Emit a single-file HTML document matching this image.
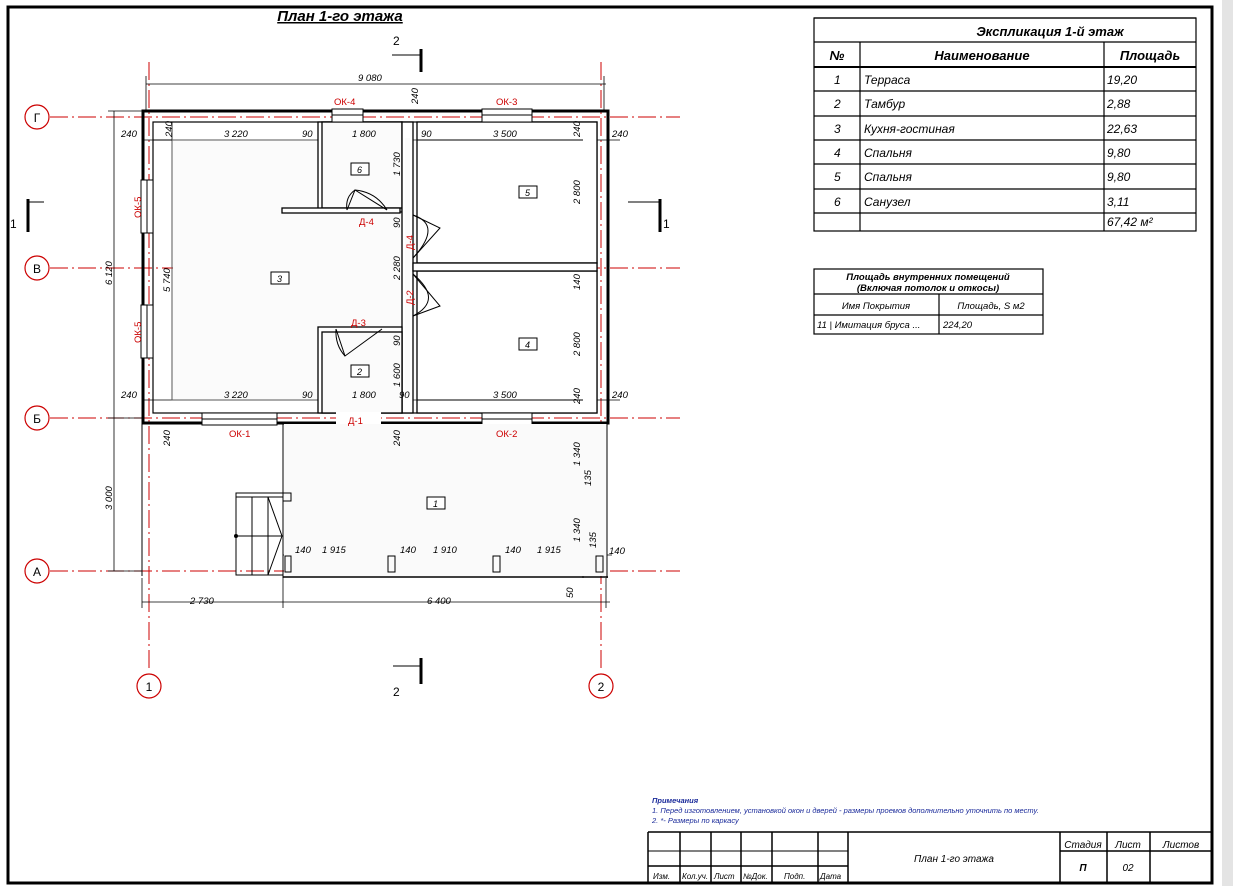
<!DOCTYPE html>
<html><head><meta charset="utf-8"><style>
html,body{margin:0;padding:0;background:#fff;}
svg{display:block;}
text{font-family:"Liberation Sans",sans-serif;font-style:italic;}
</style></head><body>
<svg width="1233" height="886" viewBox="0 0 1233 886" xmlns="http://www.w3.org/2000/svg">
<rect x="0" y="0" width="1233" height="886" fill="#fff"/>
<rect x="1222" y="0" width="11" height="886" fill="#e4e4e4"/>
<!-- frame -->
<rect x="8" y="7" width="1204" height="876" fill="none" stroke="#000" stroke-width="3"/>
<text x="340" y="21" font-size="15" font-weight="bold" text-anchor="middle" text-decoration="underline">План 1-го этажа</text>

<!-- axes -->
<g stroke="#c00" stroke-width="1" stroke-dasharray="18,4,2,4" fill="none">
<line x1="50" y1="117" x2="680" y2="117"/>
<line x1="50" y1="268" x2="680" y2="268"/>
<line x1="50" y1="418" x2="680" y2="418"/>
<line x1="50" y1="571" x2="680" y2="571"/>
<line x1="149" y1="62" x2="149" y2="672"/>
<line x1="601" y1="62" x2="601" y2="672"/>
</g>
<g stroke="#c00" stroke-width="1.2" fill="none">
<circle cx="37" cy="117" r="12"/><circle cx="37" cy="268" r="12"/><circle cx="37" cy="418" r="12"/><circle cx="37" cy="571" r="12"/>
<circle cx="149" cy="686" r="12"/><circle cx="601" cy="686" r="12"/>
</g>
<g font-size="12" text-anchor="middle" font-style="normal" fill="#000">
<text x="37" y="122" style="font-style:normal">Г</text><text x="37" y="273" style="font-style:normal">В</text><text x="37" y="423" style="font-style:normal">Б</text><text x="37" y="576" style="font-style:normal">А</text>
<text x="149" y="691" style="font-style:normal">1</text><text x="601" y="691" style="font-style:normal">2</text>
</g>

<!-- section marks -->
<g stroke="#000" fill="#000">
<line x1="28" y1="199" x2="28" y2="232" stroke-width="3"/><line x1="28" y1="202" x2="44" y2="202"/>
<line x1="660" y1="199" x2="660" y2="232" stroke-width="3"/><line x1="628" y1="202" x2="660" y2="202"/>
<line x1="421" y1="49" x2="421" y2="72" stroke-width="3"/><line x1="392" y1="55" x2="421" y2="55"/>
<line x1="421" y1="658" x2="421" y2="684" stroke-width="3"/><line x1="393" y1="666" x2="421" y2="666"/>
</g>
<g font-size="12" style="font-style:normal"><text x="10" y="228" style="font-style:normal">1</text><text x="663" y="228" style="font-style:normal">1</text><text x="393" y="45" style="font-style:normal">2</text><text x="393" y="696" style="font-style:normal">2</text></g>

<!-- dimension lines -->
<g stroke="#000" stroke-width="0.8" fill="none">
<line x1="146" y1="84" x2="606" y2="84"/><line x1="146" y1="76" x2="146" y2="111"/><line x1="604" y1="76" x2="604" y2="111"/>
<line x1="114" y1="111" x2="114" y2="571"/><line x1="108" y1="111" x2="142" y2="111"/><line x1="108" y1="418" x2="142" y2="418"/><line x1="108" y1="571" x2="142" y2="571"/>
<line x1="142" y1="140" x2="620" y2="140"/><line x1="142" y1="400" x2="620" y2="400"/>
<line x1="172" y1="122" x2="172" y2="400"/>
<line x1="142" y1="602" x2="610" y2="602"/><line x1="142" y1="578" x2="142" y2="608"/><line x1="283" y1="578" x2="283" y2="608"/><line x1="606" y1="578" x2="606" y2="608"/>
<line x1="283" y1="555" x2="612" y2="555"/>
<line x1="583" y1="122" x2="583" y2="410"/>
<line x1="583" y1="423" x2="583" y2="578"/>
</g>

<!-- walls -->
<g stroke="#000" fill="none">
<rect x="143" y="111" width="465" height="312" stroke-width="3"/>
<rect x="153" y="122" width="444" height="291" stroke-width="1.2"/>
<rect x="172" y="140" width="411" height="260" stroke-width="1" stroke="#555"/>
</g>
<rect x="173" y="141" width="409" height="258" fill="#fbfbfb"/>
<g stroke="#000" stroke-width="1.3" fill="#fff">
<!-- room 6 -->
<rect x="318" y="122" width="84" height="90"/>
<rect x="322" y="122" width="80" height="86" fill="#fbfbfb"/>
<rect x="282" y="208" width="118" height="5"/>
<!-- corridor walls -->
<rect x="402" y="122" width="11" height="291"/>
<rect x="405" y="138" width="5" height="262" fill="#fbfbfb" stroke="none"/>
<!-- room 5 -->
<rect x="417" y="122" width="180" height="141"/>
<rect x="417" y="271" width="180" height="142"/>
<rect x="413" y="263" width="184" height="8"/>
<!-- room 2 -->
<rect x="318" y="327" width="84" height="86"/>
<rect x="322" y="332" width="80" height="81" fill="#fbfbfb"/>
</g>
<g stroke="#000" stroke-width="1" fill="none">
<line x1="417" y1="140" x2="583" y2="140"/><line x1="417" y1="400" x2="583" y2="400"/>
<line x1="153" y1="140" x2="172" y2="140"/>
</g>
<!-- windows -->
<g stroke="#000" stroke-width="1" fill="#fff">
<rect x="332" y="109" width="31" height="13"/><line x1="332" y1="115" x2="363" y2="115"/>
<rect x="482" y="109" width="50" height="13"/><line x1="482" y1="115" x2="532" y2="115"/>
<rect x="202" y="413" width="75" height="12"/><line x1="202" y1="419" x2="277" y2="419"/>
<rect x="482" y="413" width="50" height="12"/><line x1="482" y1="419" x2="532" y2="419"/>
<rect x="141" y="180" width="12" height="53"/><line x1="147" y1="180" x2="147" y2="233"/>
<rect x="141" y="305" width="12" height="53"/><line x1="147" y1="305" x2="147" y2="358"/>
<rect x="336" y="412" width="45" height="13" stroke="none"/>
</g>
<!-- doors -->
<g stroke="#000" stroke-width="1" fill="none">
<path d="M347 210 L355 190 L387 210"/><path d="M355 190 Q376 192 387 210"/>
<path d="M347 210 Q345 197 355 190"/>
<path d="M413 215 L440 228 L413 258"/><path d="M413 215 Q443 225 413 258"/>
<path d="M413 274 L440 306 L413 316"/><path d="M413 274 Q444 300 413 316"/>
<path d="M336 329 L345 356 L382 329"/><path d="M336 329 Q335 345 345 356"/>
<path d="M345 425 L350 447 L376 425"/><path d="M345 425 Q344 437 350 447"/>
</g>
<!-- terrace -->
<rect x="284" y="424" width="323" height="152" fill="#fafafa"/>
<g stroke="#000" stroke-width="1" fill="none">
<line x1="142" y1="423" x2="142" y2="576"/>
<line x1="283" y1="423" x2="283" y2="578"/>
<line x1="607" y1="423" x2="607" y2="578"/>
<line x1="283" y1="577" x2="608" y2="577" stroke-width="1.5"/>
<rect x="236" y="493" width="47" height="82"/>
<line x1="236" y1="497" x2="283" y2="497"/>
<line x1="252" y1="497" x2="252" y2="575"/><line x1="268" y1="497" x2="268" y2="575"/>
<path d="M268 497 L282 536 L268 575"/><line x1="236" y1="536" x2="282" y2="536"/>
<rect x="283" y="493" width="8" height="8"/>
<rect x="285" y="556" width="6" height="16"/><rect x="388" y="556" width="7" height="16"/><rect x="493" y="556" width="7" height="16"/><rect x="596" y="556" width="7" height="16"/>
</g>
<circle cx="236" cy="536" r="2" fill="#000"/>

<!-- labels red -->
<g fill="#c00" font-size="9.5" style="font-style:normal">
<text x="334" y="105" style="font-style:normal">ОК-4</text><text x="496" y="105" style="font-style:normal">ОК-3</text>
<text x="229" y="437" style="font-style:normal">ОК-1</text><text x="496" y="437" style="font-style:normal">ОК-2</text>
<text x="359" y="225" style="font-style:normal">Д-4</text><text x="351" y="326" style="font-style:normal">Д-3</text><text x="348" y="424" style="font-style:normal">Д-1</text>
<text transform="translate(141,218) rotate(-90)" style="font-style:normal">ОК-5</text>
<text transform="translate(141,343) rotate(-90)" style="font-style:normal">ОК-5</text>
<text transform="translate(413,250) rotate(-90)" style="font-style:normal">Д-4</text>
<text transform="translate(413,305) rotate(-90)" style="font-style:normal">Д-2</text>
</g>

<!-- dim texts -->
<g font-size="9.5" fill="#000">
<text x="358" y="81">9 080</text>
<text x="121" y="137">240</text><text x="224" y="137">3 220</text><text x="302" y="137">90</text><text x="352" y="137">1 800</text><text x="421" y="137">90</text><text x="493" y="137">3 500</text><text x="612" y="137">240</text>
<text x="121" y="398">240</text><text x="224" y="398">3 220</text><text x="302" y="398">90</text><text x="352" y="398">1 800</text><text x="399" y="398">90</text><text x="493" y="398">3 500</text><text x="612" y="398">240</text>
<text x="190" y="604">2 730</text><text x="427" y="604">6 400</text>
<text x="295" y="553">140</text><text x="322" y="553">1 915</text><text x="400" y="553">140</text><text x="433" y="553">1 910</text><text x="505" y="553">140</text><text x="537" y="553">1 915</text><text x="609" y="554">140</text>
<text transform="translate(112,285) rotate(-90)">6 120</text>
<text transform="translate(112,510) rotate(-90)">3 000</text>
<text transform="translate(170,292) rotate(-90)">5 740</text>
<text transform="translate(172,137) rotate(-90)">240</text>
<text transform="translate(170,446) rotate(-90)">240</text>
<text transform="translate(400,446) rotate(-90)">240</text>
<text transform="translate(418,104) rotate(-90)">240</text>
<text transform="translate(400,176) rotate(-90)">1 730</text>
<text transform="translate(400,228) rotate(-90)">90</text>
<text transform="translate(400,280) rotate(-90)">2 280</text>
<text transform="translate(400,346) rotate(-90)">90</text>
<text transform="translate(400,387) rotate(-90)">1 600</text>
<text transform="translate(580,137) rotate(-90)">240</text>
<text transform="translate(580,204) rotate(-90)">2 800</text>
<text transform="translate(580,290) rotate(-90)">140</text>
<text transform="translate(580,356) rotate(-90)">2 800</text>
<text transform="translate(580,404) rotate(-90)">240</text>
<text transform="translate(580,466) rotate(-90)">1 340</text>
<text transform="translate(591,486) rotate(-90)">135</text>
<text transform="translate(580,542) rotate(-90)">1 340</text>
<text transform="translate(596,548) rotate(-90)">135</text>
<text transform="translate(573,598) rotate(-90)">50</text>
</g>
<g font-size="9" fill="#000">
<rect x="351" y="163" width="18" height="12" fill="#fff" stroke="#000"/><text x="357" y="173">6</text>
<rect x="519" y="186" width="18" height="12" fill="#fff" stroke="#000"/><text x="525" y="196">5</text>
<rect x="271" y="272" width="18" height="12" fill="#fff" stroke="#000"/><text x="277" y="282">3</text>
<rect x="519" y="338" width="18" height="12" fill="#fff" stroke="#000"/><text x="525" y="348">4</text>
<rect x="351" y="365" width="18" height="12" fill="#fff" stroke="#000"/><text x="357" y="375">2</text>
<rect x="427" y="497" width="18" height="12" fill="#fff" stroke="#000"/><text x="433" y="507">1</text>
</g>

<!-- explication table -->
<g stroke="#000" stroke-width="1.2" fill="none">
<line x1="814" y1="18" x2="1196" y2="18"/>
<rect x="814" y="18" width="382" height="213"/>
<line x1="814" y1="42" x2="1196" y2="42"/>
<line x1="814" y1="67" x2="1196" y2="67" stroke-width="2"/>
<line x1="814" y1="91" x2="1196" y2="91"/><line x1="814" y1="116" x2="1196" y2="116"/><line x1="814" y1="140" x2="1196" y2="140"/><line x1="814" y1="164" x2="1196" y2="164"/><line x1="814" y1="189" x2="1196" y2="189"/><line x1="814" y1="213" x2="1196" y2="213"/>
<line x1="860" y1="42" x2="860" y2="231"/><line x1="1104" y1="42" x2="1104" y2="231"/>
</g>
<g font-size="13" fill="#000">
<text x="1050" y="36" font-weight="bold" text-anchor="middle">Экспликация 1-й этаж</text>
<text x="837" y="60" font-weight="bold" text-anchor="middle">№</text>
<text x="982" y="60" font-weight="bold" text-anchor="middle">Наименование</text>
<text x="1150" y="60" font-weight="bold" text-anchor="middle">Площадь</text>
</g>
<g font-size="12" fill="#000">
<text x="834" y="84">1</text><text x="864" y="84">Терраса</text><text x="1107" y="84">19,20</text>
<text x="834" y="108">2</text><text x="864" y="108">Тамбур</text><text x="1107" y="108">2,88</text>
<text x="834" y="133">3</text><text x="864" y="133">Кухня-гостиная</text><text x="1107" y="133">22,63</text>
<text x="834" y="157">4</text><text x="864" y="157">Спальня</text><text x="1107" y="157">9,80</text>
<text x="834" y="181">5</text><text x="864" y="181">Спальня</text><text x="1107" y="181">9,80</text>
<text x="834" y="206">6</text><text x="864" y="206">Санузел</text><text x="1107" y="206">3,11</text>
<text x="1107" y="226">67,42 м²</text>
</g>
<!-- second table -->
<g stroke="#000" stroke-width="1.2" fill="none">
<rect x="814" y="269" width="229" height="65"/>
<line x1="814" y1="294" x2="1043" y2="294"/><line x1="814" y1="315" x2="1043" y2="315"/>
<line x1="939" y1="294" x2="939" y2="334"/>
</g>
<g font-size="9.5" fill="#000" text-anchor="middle">
<text x="928" y="280" font-weight="bold">Площадь внутренних помещений</text>
<text x="928" y="291" font-weight="bold">(Включая потолок и откосы)</text>
<text x="876" y="309">Имя Покрытия</text>
<text x="991" y="309">Площадь, S м2</text>
</g>
<g font-size="9.5" fill="#000"><text x="817" y="328">11 |  Имитация бруса ...</text><text x="943" y="328">224,20</text></g>

<!-- notes -->
<g font-size="7.5" fill="#1a2a9a">
<text x="652" y="803" font-weight="bold">Примечания</text>
<text x="652" y="813">1. Перед изготовлением, установкой окон и дверей - размеры проемов дополнительно уточнить по месту.</text>
<text x="652" y="823">2. *- Размеры по каркасу</text>
</g>
<!-- title block -->
<g stroke="#000" stroke-width="1.5" fill="none">
<line x1="648" y1="832" x2="1212" y2="832"/>
<line x1="648" y1="832" x2="648" y2="883"/>
<line x1="680" y1="832" x2="680" y2="883"/><line x1="711" y1="832" x2="711" y2="883"/><line x1="741" y1="832" x2="741" y2="883"/><line x1="772" y1="832" x2="772" y2="883"/><line x1="818" y1="832" x2="818" y2="883"/><line x1="848" y1="832" x2="848" y2="883"/>
<line x1="1060" y1="832" x2="1060" y2="883"/><line x1="1107" y1="832" x2="1107" y2="883"/><line x1="1150" y1="832" x2="1150" y2="883"/>
<line x1="648" y1="851" x2="848" y2="851" stroke-width="1"/><line x1="648" y1="866" x2="848" y2="866"/>
<line x1="1060" y1="851" x2="1212" y2="851"/>
</g>
<g font-size="8" fill="#000">
<text x="653" y="879">Изм.</text><text x="682" y="879">Кол.уч.</text><text x="714" y="879">Лист</text><text x="743" y="879">№Док.</text><text x="784" y="879">Подп.</text><text x="820" y="879">Дата</text>
</g>
<g font-size="10" fill="#000" text-anchor="middle">
<text x="954" y="862">План 1-го этажа</text>
<text x="1083" y="848">Стадия</text><text x="1128" y="848">Лист</text><text x="1181" y="848">Листов</text>
<text x="1083" y="871" font-weight="bold">П</text><text x="1128" y="871">02</text>
</g>
</svg>
</body></html>
